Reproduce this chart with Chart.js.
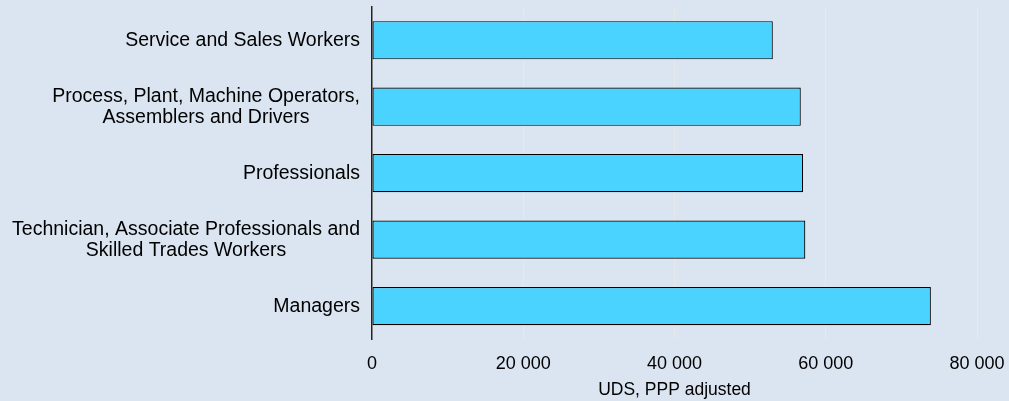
<!DOCTYPE html>
<html>
<head>
<meta charset="utf-8">
<script src="https://cdn.jsdelivr.net/npm/chart.js@4.4.1/dist/chart.umd.min.js"></script>
<style>
  html, body { margin: 0; padding: 0; background: #dbe5f1; }
  #wrap { width: 1009px; height: 401px; }
</style>
</head>
<body>
<div id="wrap"><canvas id="barChart" width="1009" height="401"></canvas></div>
<script>
// occupations, top to bottom
const categories = [
  ['Service and Sales Workers'],
  ['Process, Plant, Machine Operators,', 'Assemblers and Drivers'],
  ['Professionals'],
  ['Technician, Associate Professionals and', 'Skilled Trades Workers'],
  ['Managers']
];
const wages = [53000, 56700, 57000, 57300, 73900];
const xTicks = [0, 20000, 40000, 60000, 80000];
const xTitle = 'UDS, PPP adjusted';

const labelFont = '19.5px "Liberation Sans", Arial, sans-serif';

// category labels: right aligned block, lines centred inside it
const catLabels = {
  id: 'catLabels',
  afterDraw(chart) {
    const ctx = chart.ctx;
    const y = chart.scales.y;
    ctx.save();
    ctx.font = labelFont;
    ctx.fillStyle = '#000';
    ctx.textBaseline = 'middle';
    ctx.textAlign = 'center';
    const right = chart.chartArea.left - 12;
    const lh = 21;
    categories.forEach((lines, i) => {
      const cy = y.getPixelForValue(i);
      const w = Math.max(...lines.map(l => ctx.measureText(l).width));
      const cx = right - w / 2;
      lines.forEach((l, j) => {
        ctx.fillText(l, cx, cy + (j - (lines.length - 1) / 2) * lh);
      });
    });
    ctx.restore();
  }
};

const bg = {
  id: 'bg',
  beforeDraw(chart) {
    const ctx = chart.ctx;
    ctx.save();
    ctx.fillStyle = '#dbe5f1';
    ctx.fillRect(0, 0, chart.width, chart.height);
    ctx.restore();
  }
};

new Chart(document.getElementById('barChart'), {
  type: 'bar',
  data: {
    labels: categories.map(c => c.join(' ')),
    datasets: [{
      label: 'Wages',
      data: wages,
      backgroundColor: '#4ad3ff',
      borderColor: '#000',
      borderWidth: 1.2,
      borderSkipped: false,
      categoryPercentage: 1,
      barPercentage: 0.575
    }]
  },
  options: {
    indexAxis: 'y',
    responsive: false,
    animation: false,
    layout: { padding: { left: 0, right: 32, top: 7, bottom: 0 } },
    plugins: {
      legend: { display: false },
      tooltip: { enabled: false }
    },
    scales: {
      x: {
        min: 0,
        max: 80000,
        afterBuildTicks(scale) {
          scale.ticks = xTicks.map(v => ({ value: v }));
        },
        afterFit(scale) {
          scale.paddingRight = 0;
          scale.paddingLeft = 0;
        },
        grid: { color: '#e8e8e8', lineWidth: 1, drawTicks: false },
        border: { display: false },
        ticks: {
          color: '#000',
          padding: 14,
          font: { family: '"Liberation Sans", Arial, sans-serif', size: 18 },
          callback: v => v === 0 ? '0' : String(v).replace(/\B(?=(\d{3})+(?!\d))/g, ' ')
        },
        title: {
          display: true,
          text: xTitle,
          color: '#000',
          padding: { top: -9, bottom: 0 },
          font: { family: '"Liberation Sans", Arial, sans-serif', size: 17.5 }
        }
      },
      y: {
        afterFit(scale) { scale.width = 372; },
        grid: { display: false, drawTicks: false },
        border: { display: true, color: '#222', width: 1.5 },
        ticks: { display: false }
      }
    }
  },
  plugins: [bg, catLabels]
});
</script>
</body>
</html>
